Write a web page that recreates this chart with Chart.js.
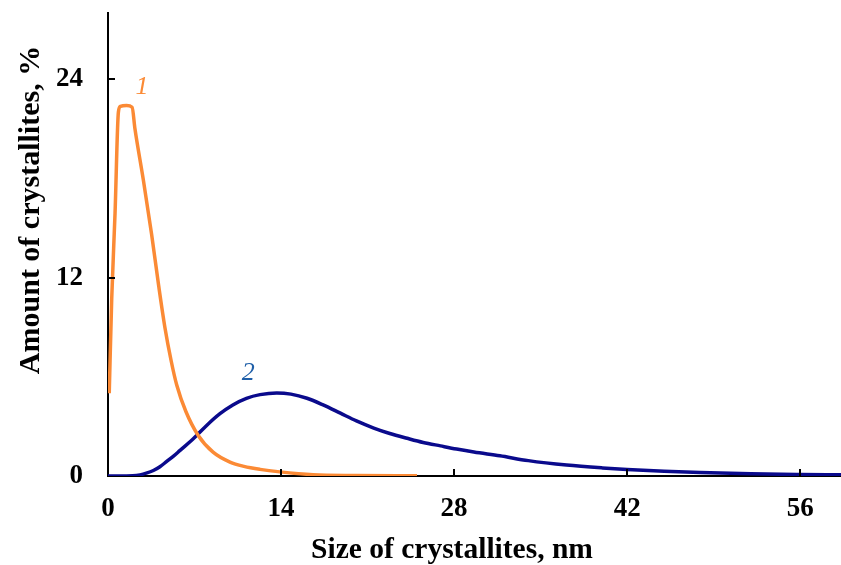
<!DOCTYPE html>
<html>
<head>
<meta charset="utf-8">
<script src="https://cdn.jsdelivr.net/npm/chart.js@4/dist/chart.umd.min.js"></script>
<style>
  body { margin: 0; background: #fff; }
</style>
</head>
<body>
<canvas id="grafico" width="841" height="565"></canvas>
<script>
// Curva 1 (naranja)
const size1 = [0.1, 0.3, 0.57, 0.84, 1.0, 1.5, 1.95, 2.18, 2.86, 3.53, 4.1, 4.6, 5.1, 5.56, 6.3, 7.3, 8.5, 9.87, 11.0, 12.3, 13.9, 16.6, 20, 25]
const amount1 = [5.0, 10.7, 15.9, 22.0, 22.35, 22.4, 22.3, 21.0, 17.9, 14.6, 11.5, 9.0, 7.0, 5.5, 3.9, 2.45, 1.44, 0.84, 0.58, 0.4, 0.25, 0.08, 0.03, 0.01]

// Curva 2 (azul)
const size2 = [0, 1.5, 2.0, 2.59, 3.1, 3.67, 4.2, 4.75, 5.3, 5.83, 6.9, 7.98, 9.06, 10.1, 11.2, 12.3, 13.65, 14.8, 16.1, 17.4, 18.8, 20.1, 21.5, 22.8, 24.2, 25.5, 26.9, 28.2, 29.6, 31.7, 34.0, 37.1, 40, 42, 45, 47.9, 52, 56, 59.3]
const amount2 = [0, 0, 0.01, 0.07, 0.17, 0.33, 0.56, 0.88, 1.2, 1.55, 2.25, 3.06, 3.77, 4.3, 4.7, 4.92, 5.02, 4.95, 4.7, 4.3, 3.8, 3.33, 2.9, 2.57, 2.28, 2.03, 1.82, 1.63, 1.45, 1.22, 0.93, 0.66, 0.49, 0.4, 0.29, 0.21, 0.13, 0.09, 0.07]

// Ejes
const xTicks = [0, 14, 28, 42, 56]
const yTicks = [0, 12, 24]
const xMax = 59.3
const yMax = 28

const curveLabels = [
    { text: '1', x: 2.75, y: 23.5, color: '#fb8a35' },
    { text: '2', x: 11.35, y: 6.2, color: '#1f5fa8' }
]

const serif = '"Liberation Serif", "Times New Roman", serif'

// Ticks hacia adentro, titulos de ejes y etiquetas de curvas
const extras = {
    id: 'extras',
    afterDraw(chart) {
        const ctx = chart.ctx
        const x = chart.scales.x
        const y = chart.scales.y
        ctx.save()
        ctx.strokeStyle = '#000'
        ctx.lineWidth = 2
        xTicks.forEach(t => {
            if (t === 0) return
            const px = Math.round(x.getPixelForValue(t))
            ctx.beginPath()
            ctx.moveTo(px, y.bottom)
            ctx.lineTo(px, y.bottom - 7)
            ctx.stroke()
        })
        yTicks.forEach(t => {
            if (t === 0) return
            const py = Math.round(y.getPixelForValue(t))
            ctx.beginPath()
            ctx.moveTo(x.left, py)
            ctx.lineTo(x.left + 7, py)
            ctx.stroke()
        })

        ctx.font = 'italic 26px ' + serif
        ctx.textAlign = 'center'
        ctx.textBaseline = 'middle'
        curveLabels.forEach(l => {
            ctx.fillStyle = l.color
            ctx.fillText(l.text, x.getPixelForValue(l.x), y.getPixelForValue(l.y))
        })

        ctx.fillStyle = '#000'
        ctx.textBaseline = 'alphabetic'
        ctx.font = 'bold 29.5px ' + serif
        ctx.fillText('Size of crystallites, nm', 452, 558)

        ctx.translate(39, 210)
        ctx.rotate(-Math.PI / 2)
        ctx.font = 'bold 30px ' + serif
        ctx.fillText('Amount of crystallites, %', 0, 0)
        ctx.restore()
    }
}

const data = {
    datasets: [
        {
            label: '1',
            data: size1.map((v, i) => ({ x: v, y: amount1[i] })),
            borderColor: '#fb8a35',
            borderWidth: 3.5,
            pointRadius: 0,
            cubicInterpolationMode: 'monotone',
            fill: false
        },
        {
            label: '2',
            data: size2.map((v, i) => ({ x: v, y: amount2[i] })),
            borderColor: '#0a0a8c',
            borderWidth: 3.5,
            pointRadius: 0,
            cubicInterpolationMode: 'monotone',
            fill: false
        }
    ]
}

const config = {
    type: 'line',
    data: data,
    options: {
        responsive: false,
        animation: false,
        devicePixelRatio: 1,
        layout: { padding: { top: 13, right: 0, left: 0, bottom: 0 } },
        plugins: {
            legend: { display: false },
            tooltip: { enabled: false }
        },
        scales: {
            x: {
                type: 'linear',
                min: 0,
                max: xMax,
                afterFit: s => {
                    s.height = 89
                    s.paddingLeft = 0
                    s.paddingRight = 0
                },
                afterBuildTicks: s => { s.ticks = xTicks.map(v => ({ value: v })) },
                ticks: {
                    font: { family: serif, size: 27, weight: 'bold' },
                    color: '#000',
                    padding: 17,
                    maxRotation: 0
                },
                grid: { display: true, drawOnChartArea: false, drawTicks: false },
                border: { display: true, color: '#000', width: 2 }
            },
            y: {
                min: 0,
                max: yMax,
                afterFit: s => {
                    s.width = 108
                    s.paddingTop = 0
                    s.paddingBottom = 0
                },
                afterBuildTicks: s => { s.ticks = yTicks.map(v => ({ value: v })) },
                ticks: {
                    font: { family: serif, size: 27, weight: 'bold' },
                    color: '#000',
                    padding: 25
                },
                grid: { display: true, drawOnChartArea: false, drawTicks: false },
                border: { display: true, color: '#000', width: 2 }
            }
        }
    },
    plugins: [extras]
}

new Chart(document.getElementById('grafico'), config)
</script>
</body>
</html>
